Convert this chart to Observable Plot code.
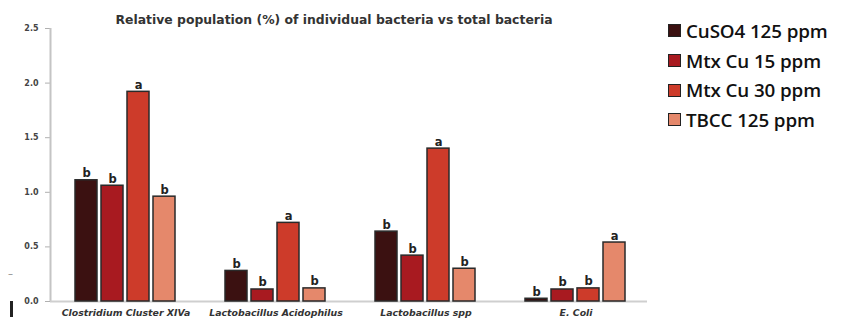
<!DOCTYPE html>
<html>
<head>
<meta charset="utf-8">
<script src="https://cdn.jsdelivr.net/npm/d3@7"></script>
<script src="https://cdn.jsdelivr.net/npm/@observablehq/plot@0.6"></script>
<style>
  html, body { margin: 0; padding: 0; background: #fff; }
  #wrap { position: relative; width: 842px; height: 324px; overflow: hidden; background: #fff; }
  #wrap svg { position: absolute; left: 0; top: 0; background: transparent !important; }
  #title { position: absolute; left: 334px; top: 12px; transform: translateX(-50%); white-space: nowrap;
           font: bold 12.4px "DejaVu Sans", sans-serif; color: #333; }
  #legend { position: absolute; left: 668px; top: 16px; font-family: "Open Sans", sans-serif; font-size: 18.8px; font-weight: 600; color: #111; letter-spacing: -0.1px; }
  .lg { display: flex; align-items: center; height: 29.7px; }
  .sw { width: 13px; height: 13px; border: 1.5px solid #222; margin-right: 5px; box-sizing: border-box; }
  .art1 { position: absolute; left: 8px; top: 268px; font: 10px "DejaVu Sans"; color: #888; }
  .art2 { position: absolute; left: 10px; top: 301px; width: 3px; height: 16px; background: #222; }
</style>
</head>
<body>
<div id="wrap">
  <div id="title">Relative population (%) of individual bacteria vs total bacteria</div>
  <div id="legend"></div>
  <div class="art1">–</div>
  <div class="art2"></div>
</div>
<script>
const categories = ["Clostridium Cluster XIVa", "Lactobacillus Acidophilus", "Lactobacillus spp", "E. Coli"];
const series = ["CuSO4 125 ppm", "Mtx Cu 15 ppm", "Mtx Cu 30 ppm", "TBCC 125 ppm"];
const colors = ["#3b1111", "#a81a20", "#cd3b2a", "#e5886b"];
const cuso4_125 = [1.11, 0.28, 0.64, 0.025];
const mtx_15 = [1.06, 0.11, 0.42, 0.11];
const mtx_30 = [1.92, 0.72, 1.40, 0.12];
const tbcc_125 = [0.96, 0.12, 0.30, 0.54];
const letters_cuso4 = ["b", "b", "b", "b"];
const letters_mtx15 = ["b", "b", "b", "b"];
const letters_mtx30 = ["a", "a", "a", "b"];
const letters_tbcc = ["b", "b", "b", "a"];
const yTicks = [0, 0.5, 1.0, 1.5, 2.0, 2.5];

const valueSets = [cuso4_125, mtx_15, mtx_30, tbcc_125];
const letterSets = [letters_cuso4, letters_mtx15, letters_mtx30, letters_tbcc];
const data = [];
categories.forEach((c, ci) => {
  series.forEach((s, si) => {
    data.push({category: c, series: s, value: valueSets[si][ci], letter: letterSets[si][ci]});
  });
});

const W = 842, H = 324;

const axisPlot = Plot.plot({
  width: W, height: H,
  marginLeft: 50, marginRight: 195, marginTop: 28, marginBottom: 23,
  style: {background: "transparent", fontFamily: "DejaVu Sans, sans-serif", fontSize: "8px", fontWeight: "bold", color: "#444"},
  x: {domain: [0, 1], axis: null},
  y: {domain: [0, 2.5], ticks: yTicks, tickFormat: d3.format(".1f"), tickSize: 5, tickPadding: 7, label: null},
  marks: [
    Plot.ruleX([0], {stroke: "#c4c4c4", strokeWidth: 2}),
    Plot.ruleY([0], {stroke: "#cfcfcf", strokeWidth: 2})
  ]
});
d3.select(axisPlot).selectAll("g[aria-label^='y-axis'] line, g[aria-label^='y-axis'] path").attr("stroke", "#b0b0b0");

const barPlot = Plot.plot({
  width: W, height: H,
  marginLeft: 50, marginRight: 191, marginTop: 28, marginBottom: 23,
  style: {background: "transparent", fontFamily: "DejaVu Sans, sans-serif", fontSize: "9.4px", fontWeight: "bold", fontStyle: "italic", color: "#333"},
  fx: {domain: categories, paddingInner: 0.257, paddingOuter: 0.126, label: null, tickSize: 0, tickPadding: 8},
  x: {domain: series, padding: 0.148, axis: null},
  y: {domain: [0, 2.5], axis: null},
  color: {domain: series, range: colors},
  facet: {data, x: "category"},
  marks: [
    Plot.barY(data, {x: "series", y: "value", fill: "series", stroke: "#2a2a2a", strokeWidth: 1.5}),
    Plot.text(data, {x: "series", y: "value", text: "letter", lineAnchor: "bottom", dy: -3,
                     fontSize: 11.5, fontWeight: "bold", fontStyle: "normal", fill: "#222"})
  ]
});

const wrap = document.getElementById("wrap");
wrap.appendChild(axisPlot);
wrap.appendChild(barPlot);

const legend = document.getElementById("legend");
series.forEach((s, i) => {
  const row = document.createElement("div");
  row.className = "lg";
  const sw = document.createElement("span");
  sw.className = "sw";
  sw.style.background = colors[i];
  const t = document.createElement("span");
  t.textContent = s;
  row.appendChild(sw);
  row.appendChild(t);
  legend.appendChild(row);
});
</script>
</body>
</html>
